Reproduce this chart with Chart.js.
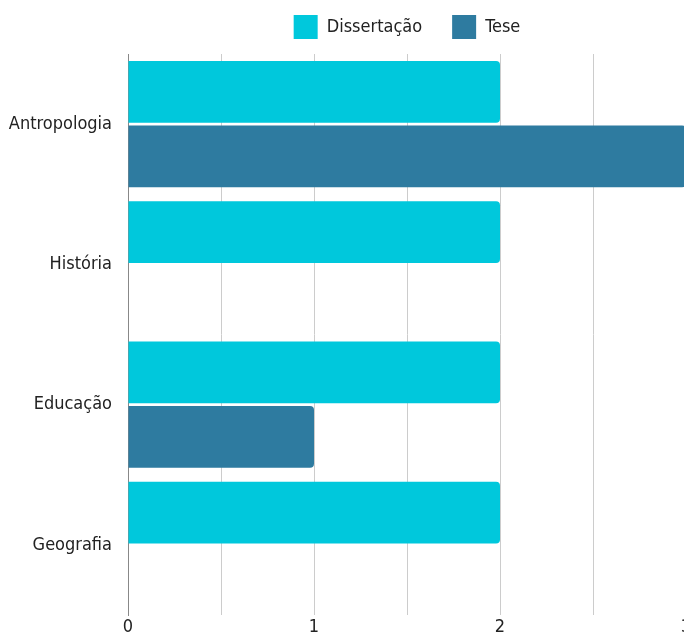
<!DOCTYPE html>
<html>
<head>
<meta charset="utf-8">
<script src="https://cdn.jsdelivr.net/npm/chart.js@4/dist/chart.umd.min.js"></script>
<style>
html,body{margin:0;padding:0;overflow:hidden;background:#fff;width:684px;height:633px;}
canvas{display:block;}
</style>
</head>
<body>
<canvas id="c" width="700" height="633"></canvas>
<script>
const categories = ['Antropologia', 'História', 'Educação', 'Geografia'];
const dissertacao = [2, 2, 2, 2];
const tese = [3, 0, 1, 0];
const seriesNames = ['Dissertação', 'Tese'];
const xTickLabels = [0, 1, 2, 3];

const FONT = "'Liberation Sans Narrow', 'DejaVu Sans Condensed', sans-serif";
Chart.defaults.font.family = FONT;
Chart.defaults.font.size = 18;
Chart.defaults.color = '#222';

const legendHeight = {
  id: 'legendHeight',
  afterInit(chart) {
    const lg = chart.legend;
    if (lg) {
      const f = lg.fit;
      lg.fit = function () { f.call(this); this.height = 69; };
    }
  }
};

new Chart(document.getElementById('c'), {
  type: 'bar',
  data: {
    labels: categories,
    datasets: [
      { label: seriesNames[0], data: dissertacao, backgroundColor: '#00C8DC' },
      { label: seriesNames[1], data: tese, backgroundColor: '#2E7BA0' }
    ]
  },
  options: {
    indexAxis: 'y',
    responsive: false,
    animation: false,
    devicePixelRatio: 1,
    layout: { padding: { top: -15, left: 0, right: 14, bottom: 0 } },
    datasets: {
      bar: {
        categoryPercentage: 0.92,
        barPercentage: 0.96,
        borderRadius: 4,
        borderSkipped: 'start'
      }
    },
    plugins: {
      legend: {
        position: 'top',
        align: 'center',
        fullSize: false,
        labels: {
          boxWidth: 24,
          boxHeight: 24,
          padding: 30,
          font: { size: 18 },
          color: '#222'
        }
      },
      tooltip: { enabled: false }
    },
    scales: {
      x: {
        min: 0,
        max: 3,
        ticks: {
          stepSize: 0.5,
          autoSkip: false,
          maxRotation: 0,
          padding: 2,
          font: { size: 18 },
          color: '#222',
          callback: (v) => xTickLabels.includes(v) ? String(v) : ''
        },
        grid: {
          drawTicks: false,
          color: (ctx) => (ctx.tick && ctx.tick.value === 0) ? '#888' : '#CCCCCC',
          lineWidth: 1
        },
        border: { display: false },
        afterFit: (scale) => { scale.height = 18; }
      },
      y: {
        ticks: {
          padding: 16,
          font: { size: 18 },
          color: '#222'
        },
        grid: { display: false, drawTicks: false },
        border: { display: true, color: '#888', width: 1 },
        afterFit: (scale) => {
          scale.width = 128;
          scale.paddingTop = 0;
          scale.paddingBottom = 0;
        }
      }
    }
  },
  plugins: [legendHeight]
});
</script>
</body>
</html>
